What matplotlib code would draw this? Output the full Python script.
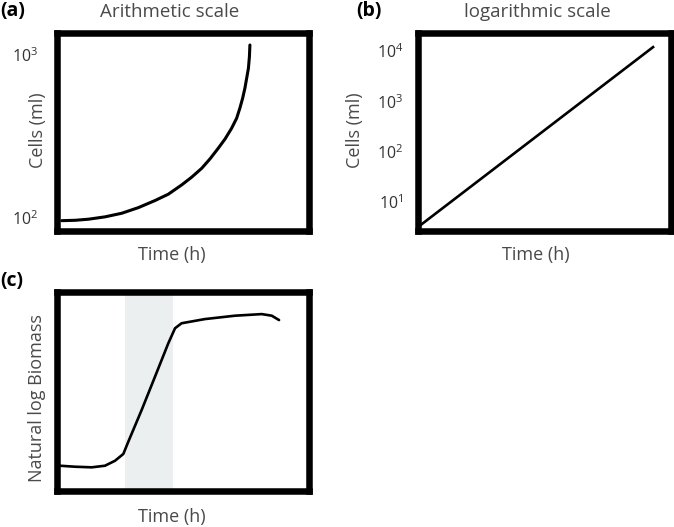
import numpy as np
import matplotlib
matplotlib.use('Agg')
import matplotlib.pyplot as plt
from matplotlib.ticker import NullFormatter

# (a) arithmetic scale - cells vs time
time_a = [0.17, 0.70, 1.23, 1.89, 2.56, 3.22, 3.88, 4.41, 4.94, 5.34, 5.74, 6.07,
          6.40, 6.67, 6.93, 7.13, 7.26, 7.37, 7.46, 7.53, 7.60, 7.64, 7.66]
cells_a = [85, 87, 93, 106, 126, 157, 196, 231, 282, 325, 374, 426,
           485, 536, 595, 650, 706, 761, 816, 871, 926, 990, 1055]
ticks_a = [100, 1000]
ticklabels_a = [r'$\mathdefault{10^{2}}$', r'$\mathdefault{10^{3}}$']

# (b) logarithmic scale - straight line
time_b = [0.0, 9.29]
cells_b = [3.18, 12000]
ticks_b = [10, 100, 1000, 10000]

# (c) growth curve, natural log biomass
time_c = [0.10, 0.70, 1.36, 1.89, 2.29, 2.62, 2.82, 3.35, 3.88, 4.41, 4.68,
          4.94, 5.87, 7.07, 8.13, 8.53, 8.82]
biomass_c = [1.27, 1.22, 1.19, 1.27, 1.52, 1.86, 2.48, 4.07, 5.74, 7.42, 8.18,
             8.43, 8.64, 8.81, 8.89, 8.81, 8.59]
exp_phase = (2.69, 4.61)

plt.rcParams['font.family'] = 'Open Sans'
plt.rcParams['mathtext.fontset'] = 'custom'
plt.rcParams['mathtext.rm'] = 'Open Sans'
plt.rcParams['mathtext.it'] = 'Open Sans:italic'
plt.rcParams['mathtext.bf'] = 'Open Sans:bold'

txt = '#4a4a4a'
spine_lw = 4.7

fig = plt.figure(figsize=(6.74, 5.27), dpi=100)
ax_a = fig.add_axes([0.0853, 0.5617, 0.3727, 0.3766])
ax_b = fig.add_axes([0.6202, 0.5626, 0.3754, 0.3757])
ax_c = fig.add_axes([0.0853, 0.0683, 0.3727, 0.3776])

for ax in (ax_a, ax_b, ax_c):
    for s in ax.spines.values():
        s.set_linewidth(spine_lw)
        s.set_color('k')
    ax.set_xticks([])
    ax.set_xlim(0, 10)

# (a)
ax_a.plot(time_a, cells_a, color='k', lw=2.2, solid_capstyle='round')
ax_a.set_ylim(28, 1124)
ax_a.set_yticks(ticks_a)
ax_a.set_yticklabels(ticklabels_a)
ax_a.tick_params(axis='y', length=0, pad=14, labelsize=11.5, labelcolor='#333333')

# (b)
ax_b.plot(time_b, cells_b, color='k', lw=1.9)
ax_b.set_yscale('log')
ax_b.set_ylim(2.71, 23400)
ax_b.set_yticks(ticks_b)
ax_b.yaxis.set_minor_formatter(NullFormatter())
ax_b.tick_params(axis='y', which='both', length=0, pad=10.5, labelsize=11.5,
                 labelcolor='#333333')

# (c)
ax_c.axvspan(exp_phase[0], exp_phase[1], color='#ebeff0', lw=0, zorder=0)
ax_c.plot(time_c, biomass_c, color='k', lw=1.9, solid_capstyle='round')
ax_c.set_ylim(0, 10)
ax_c.set_yticks([])

# labels and titles
fig.text(0.0, 0.979, '(a)', fontsize=14, fontweight='bold', ha='left', va='center')
fig.text(0.528, 0.979, '(b)', fontsize=14, fontweight='bold', ha='left', va='center')
fig.text(0.0, 0.467, '(c)', fontsize=14, fontweight='bold', ha='left', va='center')
fig.text(0.251, 0.968, 'Arithmetic scale', fontsize=13.5, color=txt, ha='center', va='baseline')
fig.text(0.797, 0.968, 'logarithmic scale', fontsize=13.5, color=txt, ha='center', va='baseline')
fig.text(0.255, 0.507, 'Time (h)', fontsize=13, color=txt, ha='center', va='baseline')
fig.text(0.795, 0.507, 'Time (h)', fontsize=13, color=txt, ha='center', va='baseline')
fig.text(0.255, 0.0095, 'Time (h)', fontsize=13, color=txt, ha='center', va='baseline')
fig.text(0.056, 0.753, 'Cells (ml)', fontsize=13, color=txt, ha='center', va='center', rotation=90)
fig.text(0.527, 0.753, 'Cells (ml)', fontsize=13, color=txt, ha='center', va='center', rotation=90)
fig.text(0.055, 0.244, 'Natural log Biomass', fontsize=13, color=txt, ha='center', va='center', rotation=90)

fig.savefig('out.png', dpi=100)
